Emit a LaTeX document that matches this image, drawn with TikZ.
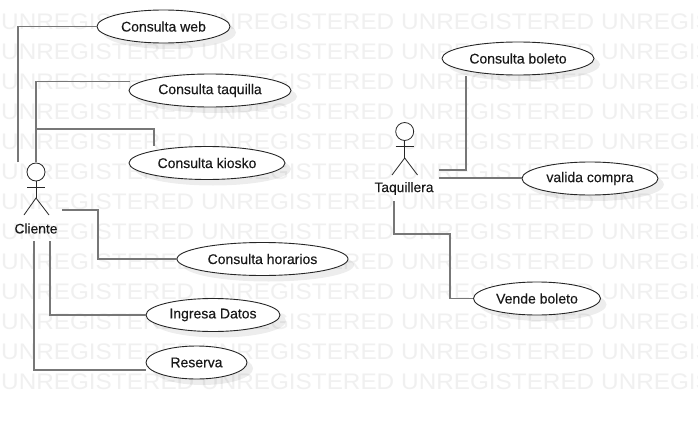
\documentclass[tikz,border=0pt]{standalone}
\usepackage{fontspec}
\setmainfont{Liberation Sans}
\newfontfamily\lblfont[FakeBold=0.2]{Liberation Sans}
\usetikzlibrary{shadows,shapes.geometric}
\definecolor{wm}{HTML}{F0F0F0}
\definecolor{conn}{HTML}{777777}
\tikzset{
  x=1pt,y=-1pt,
  usecase/.style={draw=black!85,line width=0.9pt,fill=white,ellipse,inner sep=0pt,
    font=\lblfont\fontsize{14}{15}\selectfont,text=black!90,
    drop shadow={shadow xshift=6pt,shadow yshift=-6pt,fill=black,opacity=0.07}},
  link/.style={draw=conn,line width=1.4pt},
  stick/.style={draw=black!85,line width=0.8pt},
  actorlabel/.style={inner sep=0pt,font=\lblfont\fontsize{13.8}{15}\selectfont,text=black!90},
  mark text/.style={inner sep=0pt,anchor=west,xscale=1.08,text=wm,font=\fontsize{22.5}{24}\selectfont}
}
\begin{document}
\begin{tikzpicture}
\useasboundingbox (0,0) rectangle (698,420);
\fill[white] (0,0) rectangle (698,420);
\begin{scope}
\clip (0,0) rectangle (698,400);
\foreach \r in {0,...,12}{
  \foreach \c in {0,...,3}{
    \node[mark text] (wm\r c\c) at ({1+200*\c},{22+30*\r}) {UNREGISTERED};
  }
}
\end{scope}
% connectors
\coordinate (cTopA) at (18,162);
\coordinate (cTopB) at (36,162);
\coordinate (cRight) at (62,210);
\coordinate (cBotA) at (50,241);
\coordinate (cBotB) at (34,241);
\coordinate (tqEnd) at (130,81.5);
\coordinate (resEnd) at (146,370);
\coordinate (kiEnd) at (154,146);
\coordinate (tA) at (439,170);
\coordinate (tB) at (439,178);
\coordinate (tC) at (394,201);
\coordinate (boEnd) at (466,76);
\coordinate (vaEnd) at (522,178);

\node[usecase,minimum width=133pt,minimum height=33pt] (web) at (163.5,26.5) {Consulta web};
\node[usecase,minimum width=162pt,minimum height=33pt] (taq) at (210,90.5) {Consulta taquilla};
\node[usecase,minimum width=156pt,minimum height=33pt] (kio) at (207,163) {Consulta kiosko};
\node[usecase,minimum width=171pt,minimum height=33pt] (hor) at (262.5,259) {Consulta horarios};
\node[usecase,minimum width=134pt,minimum height=33pt] (ing) at (213,315) {Ingresa Datos};
\node[usecase,minimum width=101pt,minimum height=33pt] (res) at (196.5,362.5) {Reserva};
\node[usecase,minimum width=152pt,minimum height=33pt] (bol) at (518,58.5) {Consulta boleto};
\node[usecase,minimum width=136pt,minimum height=33pt] (val) at (590,178.5) {valida compra};
\node[usecase,minimum width=127pt,minimum height=33pt] (ven) at (537,298.5) {Vende boleto};

\draw[link] (cTopA) |- (web.west);
\draw[link] (cTopB) |- (tqEnd);
\draw[link] (cTopB) -- (36,129) -| (kiEnd);
\draw[link] (cRight) -- (98,210) |- (hor.west);
\draw[link] (cBotA) |- (ing.west);
\draw[link] (cBotB) |- (resEnd);
\draw[link] (tA) -| (boEnd);
\draw[link] (tB) -- (vaEnd);
\draw[link] (tC) -- (394,234) -- (450,234) |- (ven.west);

% actors
\node[stick,draw,circle,fill=white,minimum size=18pt,inner sep=0pt] (headC) at (36,172) {};
\draw[stick] (headC.south) -- (36,198) coordinate (hipC);
\draw[stick] (27,187) -- (45,187);
\draw[stick] (24,215) -- (hipC) -- (49,215);
\node[actorlabel] (cliente) at (36,228.5) {Cliente};

\node[stick,draw,circle,fill=white,minimum size=18pt,inner sep=0pt] (headT) at (404.7,131.5) {};
\draw[stick] (headT.south) -- (404.7,158) coordinate (hipT);
\draw[stick] (395.5,146.5) -- (414,146.5);
\draw[stick] (392,175) -- (hipT) -- (417.5,175);
\node[actorlabel] (taquillera) at (404,188.5) {Taquillera};
\end{tikzpicture}
\end{document}
